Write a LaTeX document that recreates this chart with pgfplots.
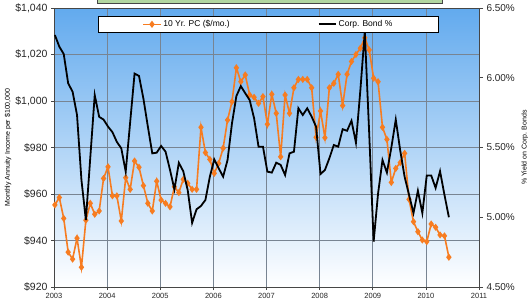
\documentclass[border=0pt]{standalone}
\usepackage{fontspec}
\setmainfont{Liberation Sans}
\usepackage{pgfplots}
\pgfplotsset{compat=1.18}
\usepackage{pgfplotstable}

\definecolor{pcorange}{RGB}{247,124,32}
\definecolor{gridc}{RGB}{120,132,146}
\definecolor{axc}{RGB}{70,70,70}
\definecolor{bgtop}{RGB}{98,170,238}
\definecolor{bgmid}{RGB}{195,223,249}
\definecolor{titlegreen}{RGB}{178,214,160}

\pgfplotstableread{
i pc
0 955.3
1 958.5
2 949.5
3 935.0
4 932.0
5 941.0
6 928.5
7 948.7
8 956.0
9 951.3
10 952.7
11 966.7
12 971.7
13 959.2
14 959.2
15 948.4
16 967.0
17 962.0
18 974.2
19 971.5
20 963.6
21 956.0
22 952.7
23 965.5
24 957.4
25 956.0
26 954.5
27 963.1
28 960.6
29 966.3
30 964.6
31 962.0
32 962.0
33 988.7
34 977.8
35 974.9
36 968.9
37 973.2
38 979.7
39 991.8
40 999.7
41 1014.3
42 1008.3
43 1011.2
44 1002.6
45 1001.6
46 999.0
47 1001.9
48 990.0
49 1002.9
50 994.7
51 976.0
52 1002.6
53 994.7
54 1005.7
55 1009.3
56 1009.3
57 1009.3
58 1005.7
59 984.4
60 995.7
61 984.2
62 1005.7
63 1007.6
64 1011.5
65 998.0
66 1011.5
67 1017.0
68 1020.0
69 1022.7
70 1027.2
71 1022.0
72 1009.8
73 1008.3
74 988.7
75 983.5
76 965.0
77 971.0
78 973.5
79 977.5
80 957.7
81 948.1
82 943.8
83 940.2
84 939.5
85 947.1
86 945.7
87 942.4
88 942.0
89 932.8
}\pctable

\pgfplotstableread{
i bond
0 6.306
1 6.223
2 6.170
3 5.960
4 5.900
5 5.733
6 5.267
7 4.980
8 5.430
9 5.876
10 5.720
11 5.700
12 5.650
13 5.610
14 5.540
15 5.494
16 5.327
17 5.680
18 6.030
19 6.013
20 5.850
21 5.650
22 5.458
23 5.463
24 5.511
25 5.470
26 5.340
27 5.200
28 5.390
29 5.330
30 5.195
31 4.960
32 5.057
33 5.081
34 5.124
35 5.290
36 5.415
37 5.351
38 5.291
39 5.410
40 5.673
41 5.869
42 5.940
43 5.889
44 5.840
45 5.709
46 5.506
47 5.506
48 5.327
49 5.320
50 5.391
51 5.375
52 5.303
53 5.458
54 5.470
55 5.781
56 5.733
57 5.781
58 5.721
59 5.649
60 5.310
61 5.339
62 5.423
63 5.518
64 5.506
65 5.631
66 5.620
67 5.692
68 5.534
69 5.910
70 6.330
71 5.600
72 4.825
73 5.170
74 5.410
75 5.320
76 5.500
77 5.700
78 5.480
79 5.290
80 5.160
81 5.030
82 5.190
83 5.030
84 5.300
85 5.300
86 5.210
87 5.330
88 5.160
89 5.000
}\bondtable

\begin{document}
\begin{tikzpicture}[x=1pt,y=1pt]
\useasboundingbox (0,0) rectangle (529,301);
\fill[titlegreen, draw=axc, line width=0.8pt] (97,306) rectangle (442,297.5);
\begin{axis}[
  at={(54pt,14pt)}, anchor=south west,
  width=425pt, height=279pt, scale only axis,
  xmin=-0.2, xmax=95.8, ymin=920, ymax=1040,
  xtick={-0.2,11.8,23.8,35.8,47.8,59.8,71.8,83.8,95.8},
  xticklabels={2003,2004,2005,2006,2007,2008,2009,2010,2011},
  ytick={920,940,960,980,1000,1020,1040},
  yticklabels={{\$920},{\$940},{\$960},{\$980},{\$1,000},{\$1,020},{\$1,040}},
  tick pos=left, tick align=outside, major tick length=3pt,
  every tick/.style={axc, line width=0.6pt},
  grid=major, major grid style={gridc, line width=0.7pt},
  axis line style={axc, line width=0.8pt},
  axis background/.style={shade, top color=bgtop, middle color=bgmid, bottom color=white},
  xticklabel style={font=\fontsize{7.5}{8}\selectfont, text=black!85},
  yticklabel style={font=\fontsize{10.5}{12}\selectfont, text=black!85},
  ylabel={Monthly Annuity Income per \$100,000},
  ylabel style={at={(axis description cs:-0.108,0.5)}, anchor=center, font=\fontsize{7}{8}\selectfont},
]
\addplot[pcorange, line width=1.6pt, mark=diamond*, mark size=2.3pt, mark options={solid, fill=pcorange}] table[x=i, y=pc] {\pctable};
\end{axis}
\begin{axis}[
  at={(54pt,14pt)}, anchor=south west,
  width=425pt, height=279pt, scale only axis,
  xmin=-0.2, xmax=95.8, ymin=4.5, ymax=6.5,
  axis x line=none, axis y line*=right,
  ytick={4.5,5,5.5,6,6.5},
  yticklabels={4.50\%,5.00\%,5.50\%,6.00\%,6.50\%},
  tick align=outside, major tick length=4pt,
  every tick/.style={axc, line width=0.6pt},
  axis line style={axc, line width=0.8pt},
  yticklabel style={font=\fontsize{10}{12}\selectfont, text=black!85},
  ylabel={\% Yield on Corp. Bonds},
  ylabel style={at={(axis description cs:1.108,0.5)}, anchor=center, rotate=0, font=\fontsize{7}{8}\selectfont},
  legend style={at={(0.5047,0.9713)}, anchor=north, legend columns=2, draw=black, line width=0.8pt, fill=white,
    font=\fontsize{8.5}{9.5}\selectfont, inner xsep=44pt, inner ysep=2pt,
    /tikz/every even column/.append style={column sep=86pt}},
]
\addlegendimage{pcorange, line width=1.6pt, mark=diamond*, mark size=2.3pt, mark options={solid, fill=pcorange}}
\addlegendentry{10 Yr. PC (\$/mo.)}
\addplot[black, line width=1.8pt] table[x=i, y=bond] {\bondtable};
\addlegendentry{Corp. Bond \%}
\end{axis}
\end{tikzpicture}
\end{document}
